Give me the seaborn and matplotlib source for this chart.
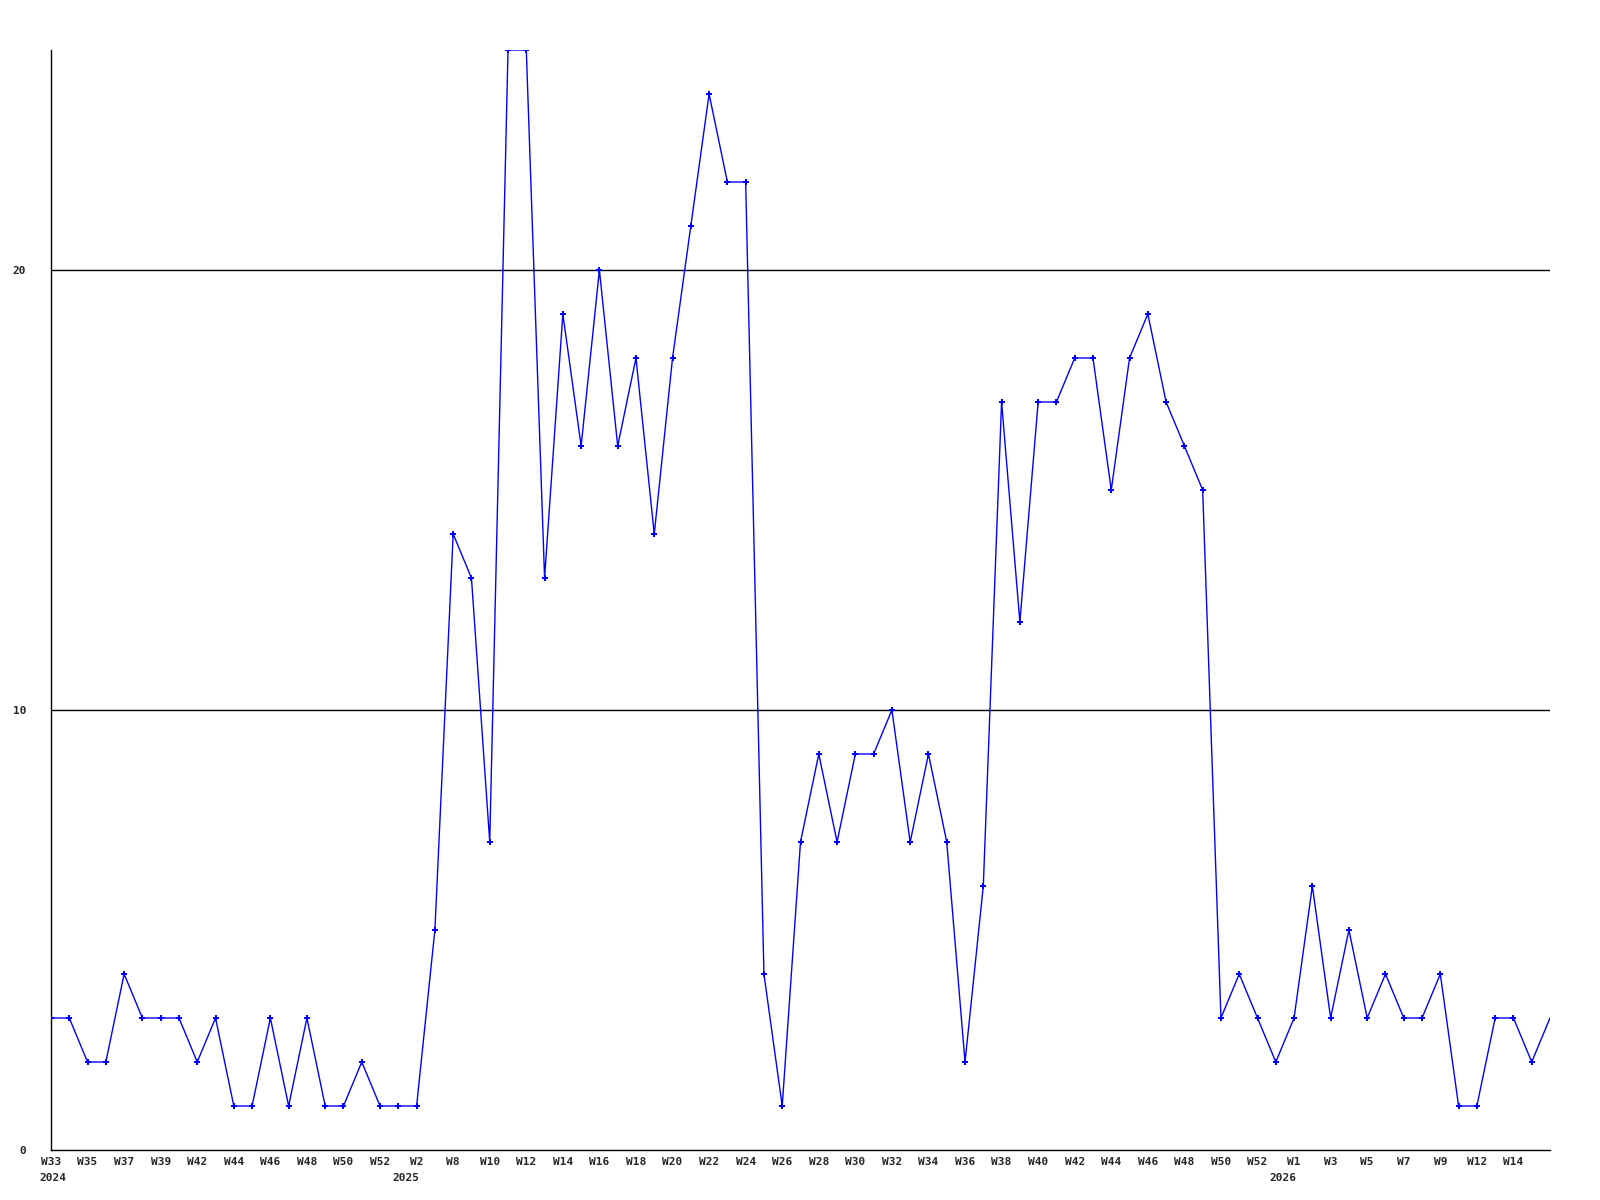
import matplotlib
matplotlib.use("Agg")
import matplotlib.pyplot as plt
import seaborn as sns
import pandas as pd

# weekly counts, one point per week (equally spaced)
values = [3, 3, 2, 2, 4, 3, 3, 3, 2, 3,
          1, 1, 3, 1, 3, 1, 1, 2, 1, 1,
          1, 5, 14, 13, 7, 25, 25, 13, 19, 16,
          20, 16, 18, 14, 18, 21, 24, 22, 22, 4,
          1, 7, 9, 7, 9, 9, 10, 7, 9, 7,
          2, 6, 17, 12, 17, 17, 18, 18, 15, 18,
          19, 17, 16, 15, 3, 4, 3, 2, 3, 6,
          3, 5, 3, 4, 3, 3, 4, 1, 1, 3,
          3, 2, 3]

# every second point carries a week label
week_labels = ["W33", "W35", "W37", "W39", "W42", "W44", "W46", "W48", "W50", "W52",
               "W2", "W8", "W10", "W12", "W14", "W16", "W18", "W20", "W22", "W24",
               "W26", "W28", "W30", "W32", "W34", "W36", "W38", "W40", "W42", "W44",
               "W46", "W48", "W50", "W52", "W1", "W3", "W5", "W7", "W9", "W12", "W14"]

years = ["2024", "2025", "2026"]
year_pos = [0.1, 19.4, 67.4]

y_ticks = [0, 10, 20]

df = pd.DataFrame({"idx": range(len(values)), "count": values})

sns.set_style("white")
plt.rcParams["font.family"] = ["DejaVu Sans Mono", "DejaVu Sans"]

fig = plt.figure(figsize=(16, 12), dpi=100)
ax = fig.add_axes([51 / 1600, 50 / 1200, 1499 / 1600, 1100 / 1200])

for t in y_ticks[1:]:
    ax.axhline(t, color="black", lw=1.0, zorder=1)

sns.lineplot(data=df, x="idx", y="count", ax=ax, color="#0000ff", lw=1.0,
             marker="P", markersize=4.5, markeredgewidth=0,
             markevery=list(range(len(values) - 1)), zorder=3)

ax.set_xlim(0, len(values) - 1)
ax.set_ylim(0, 25)

ax.set_xticks(range(0, 2 * len(week_labels), 2))
ax.set_xticklabels(week_labels, fontsize=8, fontweight="bold")
ax.set_yticks(y_ticks)
ax.set_yticklabels([str(t) for t in y_ticks], fontsize=8, fontweight="bold")
ax.tick_params(axis="x", length=0, pad=5)
ax.tick_params(axis="y", length=0, pad=18)

for yr, pos in zip(years, year_pos):
    ax.text(pos, -0.021, yr, transform=ax.get_xaxis_transform(),
            ha="center", va="top", fontsize=8, fontweight="bold")

ax.set_xlabel("")
ax.set_ylabel("")
for side in ["top", "right"]:
    ax.spines[side].set_visible(False)
for side in ["left", "bottom"]:
    ax.spines[side].set_color("black")
    ax.spines[side].set_linewidth(1.0)

fig.savefig("out.png", dpi=100)
